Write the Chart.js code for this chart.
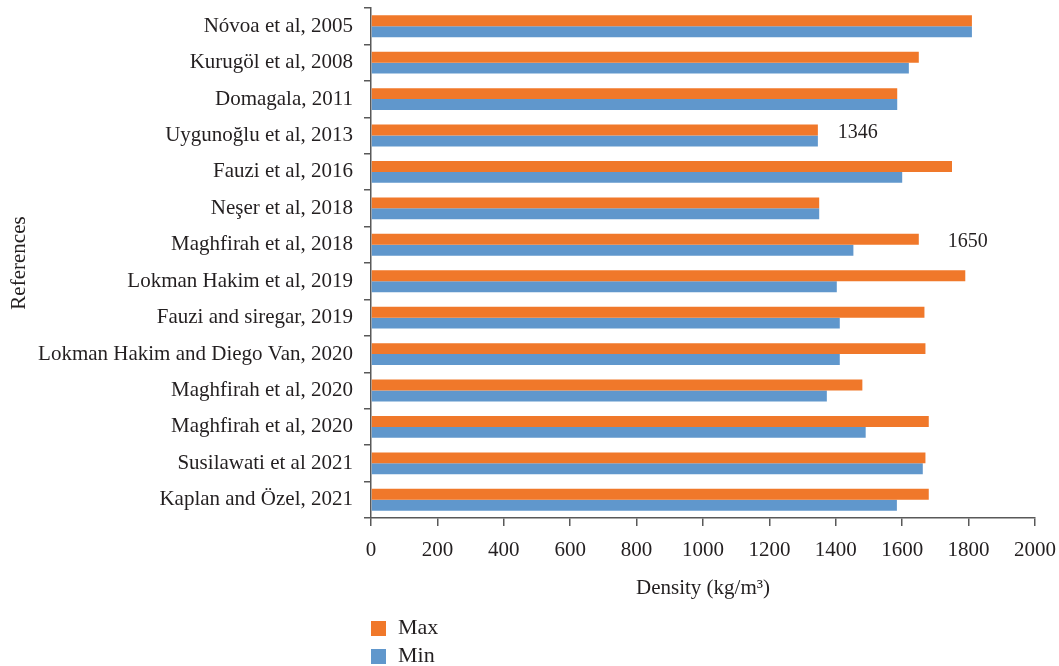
<!DOCTYPE html>
<html>
<head>
<meta charset="utf-8">
<script src="https://cdn.jsdelivr.net/npm/chart.js@4.4.0/dist/chart.umd.min.js"></script>
<style>
  html, body { margin: 0; padding: 0; background: #fff; }
  #wrap { width: 1059px; height: 666px; }
</style>
</head>
<body>
<div id="wrap"><canvas id="densityChart" width="1059" height="666"></canvas></div>
<script>
const references = [
  "Nóvoa et al, 2005",
  "Kurugöl et al, 2008",
  "Domagala, 2011",
  "Uygunoğlu et al, 2013",
  "Fauzi et al, 2016",
  "Neşer et al, 2018",
  "Maghfirah et al, 2018",
  "Lokman Hakim et al, 2019",
  "Fauzi and siregar, 2019",
  "Lokman Hakim and Diego Van, 2020",
  "Maghfirah et al, 2020",
  "Maghfirah et al, 2020",
  "Susilawati et al 2021",
  "Kaplan and Özel, 2021"
];
const maxValues = [1810, 1650, 1585, 1346, 1750, 1350, 1650, 1790, 1667, 1670, 1480, 1680, 1670, 1680];
const minValues = [1810, 1620, 1585, 1346, 1600, 1350, 1453, 1403, 1412, 1412, 1373, 1490, 1662, 1584];
const xTicks = [0, 200, 400, 600, 800, 1000, 1200, 1400, 1600, 1800, 2000];

// the two value labels printed in the plot
const noteIndex = [3, 6];
const noteValues = [1346, 1650];

const ORANGE = "#F0782A";
const BLUE = "#6097CC";
const AXIS = "#595959";
const TEXT = "#231F20";
const FONT = "'Liberation Serif', 'DejaVu Serif', serif";

const notesPlugin = {
  id: "notes",
  afterDatasetsDraw(chart) {
    const { ctx, scales } = chart;
    const shift = [20, 29];
    ctx.save();
    ctx.fillStyle = TEXT;
    ctx.font = "20px " + FONT;
    ctx.textAlign = "left";
    ctx.textBaseline = "middle";
    noteIndex.forEach((idx, i) => {
      const x = scales.x.getPixelForValue(noteValues[i]) + shift[i];
      const y = scales.y.getPixelForValue(idx) - 3;
      ctx.fillText(String(noteValues[i]), x, y);
    });
    ctx.restore();
  }
};

const legendPlugin = {
  id: "sideLegend",
  afterDraw(chart) {
    const { ctx, chartArea } = chart;
    ctx.save();
    ctx.font = "22px " + FONT;
    ctx.textBaseline = "middle";
    ctx.textAlign = "left";
    chart.data.datasets.forEach((ds, i) => {
      const y = 628 + i * 28;
      ctx.fillStyle = ds.backgroundColor;
      ctx.fillRect(chartArea.left, y - 7, 15, 15);
      ctx.fillStyle = TEXT;
      ctx.fillText(ds.label, chartArea.left + 27, y);
    });
    ctx.restore();
  }
};

const ctx = document.getElementById("densityChart").getContext("2d");
new Chart(ctx, {
  type: "bar",
  data: {
    labels: references,
    datasets: [
      { label: "Max", data: maxValues, backgroundColor: ORANGE, barPercentage: 1, categoryPercentage: 0.6 },
      { label: "Min", data: minValues, backgroundColor: BLUE, barPercentage: 1, categoryPercentage: 0.6 }
    ]
  },
  options: {
    indexAxis: "y",
    responsive: false,
    animation: false,
    layout: { padding: { top: 8, right: 24, left: 0, bottom: 60 } },
    plugins: {
      legend: { display: false },
      tooltip: { enabled: false }
    },
    scales: {
      x: {
        min: 0,
        max: 2000,
        afterBuildTicks(scale) {
          scale.ticks = xTicks.map((v) => ({ value: v }));
        },
        afterFit(scale) {
          scale.height = 88;
          scale.paddingLeft = 0;
          scale.paddingRight = 0;
        },
        grid: { drawOnChartArea: false, drawTicks: true, tickLength: 8, color: AXIS, lineWidth: 1.5 },
        border: { color: AXIS, width: 1.5 },
        ticks: {
          color: TEXT, font: { family: FONT, size: 21 }, padding: 12, maxRotation: 0,
          callback: (v) => String(v)
        },
        title: { display: true, text: "Density (kg/m³)", color: TEXT, font: { family: FONT, size: 21 }, padding: { top: 0, bottom: 5 } }
      },
      y: {
        afterFit(scale) {
          scale.width = 371;
          scale.paddingTop = 0;
          scale.paddingBottom = 0;
        },
        grid: { drawOnChartArea: false, drawTicks: true, tickLength: 7, color: AXIS, lineWidth: 1.5, offset: true },
        border: { color: AXIS, width: 1.5 },
        ticks: { color: TEXT, font: { family: FONT, size: 21 }, padding: 11, autoSkip: false },
        title: { display: true, text: "References", color: TEXT, font: { family: FONT, size: 21 }, padding: { top: 7, bottom: 0 } }
      }
    }
  },
  plugins: [notesPlugin, legendPlugin]
});
</script>
</body>
</html>
